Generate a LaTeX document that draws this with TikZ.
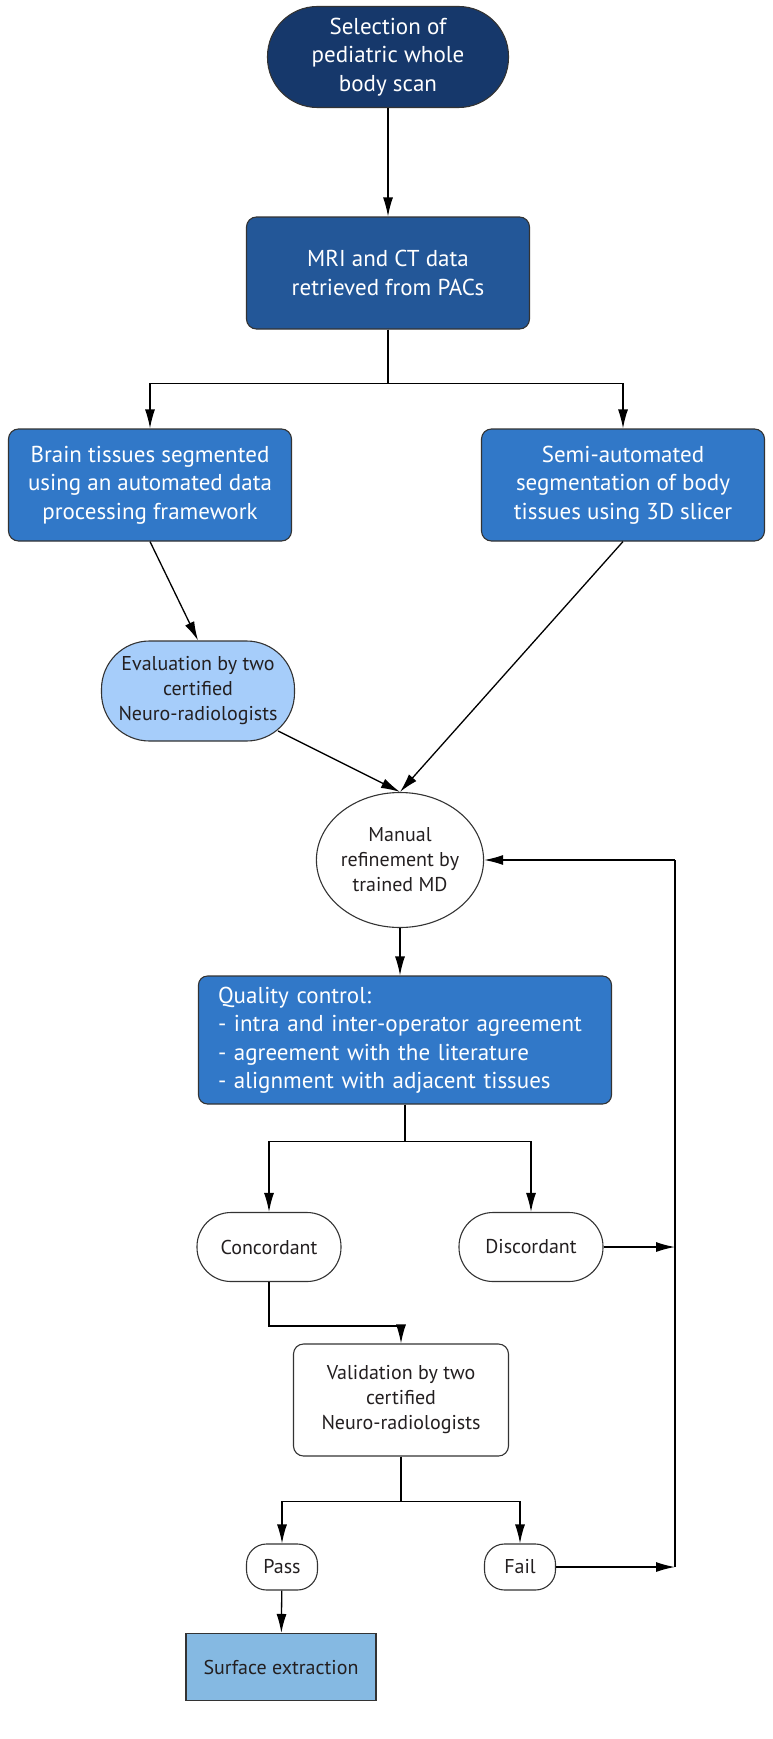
\documentclass[tikz,border=0pt]{standalone}
\usepackage{fontspec}
\setmainfont{PT Sans}
\usepackage{tikz}
\usetikzlibrary{arrows.meta,shapes.geometric}

\definecolor{navyblue}{HTML}{16386B}
\definecolor{midblue}{HTML}{235798}
\definecolor{brightblue}{HTML}{3178C8}
\definecolor{paleblue}{HTML}{A6CDFA}
\definecolor{skyblue}{HTML}{85B9E2}
\definecolor{edgegray}{HTML}{333333}
\definecolor{inkgray}{HTML}{231F20}

\begin{document}
\begin{tikzpicture}[x=1pt, y=-1pt,
		box/.style={draw=edgegray, line width=1.1pt, rounded corners=10pt, inner sep=0pt, align=center},
		bigtext/.style={font=\fontsize{23}{28.5}\selectfont, text=white},
		smalltext/.style={font=\fontsize{20}{25}\selectfont, text=inkgray},
		arr/.style={line width=1.3pt, -{Latex[length=19pt, width=10pt]}},
		link/.style={line width=1.3pt}]
		\useasboundingbox (0, 0) rectangle (773, 1739);
		
		\node[box, bigtext, fill=navyblue, rounded corners=50pt, minimum width=241pt, minimum height=101pt] (select) at (388, 57) {Selection of\\pediatric whole\\body scan};
		\node[box, bigtext, fill=midblue, minimum width=283pt, minimum height=112pt] (mri) at (388, 273) {MRI and CT data\\retrieved from PACs};
		
		\node[box, bigtext, fill=brightblue, minimum width=283pt, minimum height=112pt] (brain) at (150, 485) {Brain tissues segmented\\using an automated data\\processing framework};
		\node[box, bigtext, fill=brightblue, minimum width=283pt, minimum height=112pt] (semi) at (623, 485) {Semi-automated\\segmentation of body\\tissues using 3D slicer};
		
		\node[box, smalltext, fill=paleblue, rounded corners=48pt, minimum width=193pt, minimum height=100pt] (eval) at (198, 691) {Evaluation by two\\certified\\Neuro-radiologists};
		\node[draw=edgegray, line width=1.1pt, ellipse, smalltext, inner sep=0pt, align=center, minimum width=166pt, minimum height=135pt] (manual) at (400, 860) {Manual\\refinement by\\trained MD};
		
		\node[box, bigtext, fill=brightblue, rounded corners=9pt, minimum width=413pt, minimum height=128pt, text width=374pt, align=left] (qc) at (405, 1040) {Quality control:\\- intra and inter-operator agreement\\- agreement with the literature\\- alignment with adjacent tissues};
		
		\node[box, smalltext, fill=white, rounded corners=34pt, minimum width=144pt, minimum height=69pt] (conc) at (269, 1247) {Concordant};
		\node[box, smalltext, fill=white, rounded corners=34pt, minimum width=144pt, minimum height=69pt] (disc) at (531, 1247) {Discordant};
		
		\node[box, smalltext, fill=white, minimum width=215pt, minimum height=112pt] (valid) at (401, 1400) {Validation by two\\certified\\Neuro-radiologists};
		
		\node[box, smalltext, fill=white, rounded corners=20pt, minimum width=71pt, minimum height=46pt] (pass) at (282, 1567) {Pass};
		\node[box, smalltext, fill=white, rounded corners=20pt, minimum width=71pt, minimum height=46pt] (fail) at (520, 1567) {Fail};
		
		\node[box, smalltext, fill=skyblue, rounded corners=0pt, minimum width=190pt, minimum height=67pt] (surf) at (281, 1667) {Surface extraction};
		
		\coordinate (looptop) at (675, 860);
		\coordinate (loopmid) at (675, 1247);
		\coordinate (loopbot) at (675, 1567);
		
		\draw[arr] (select) -- (mri);
		\draw[arr] (mri.south) -- ++(0, 54) -| (brain.north);
		\draw[arr] (mri.south) -- ++(0, 54) -| (semi.north);
		\draw[arr] (brain.south) -- (eval.north);
		\draw[arr, shorten <=-19pt] (eval) -- (manual.north);
		\draw[arr] (semi.south) -- (manual.north);
		\draw[arr] (manual) -- (manual |- qc.north);
		\draw[arr] (qc.south) -- ++(0, 37) -| (conc.north);
		\draw[arr] (qc.south) -- ++(0, 37) -| (disc.north);
		\draw[arr] (conc.south) -- ++(0, 44) -| (valid.north);
		\draw[arr] (valid.south) -- ++(0, 45) -| (pass.north);
		\draw[arr] (valid.south) -- ++(0, 45) -| (fail.north);
		\draw[arr] (pass) -- (surf);
		\draw[arr] (disc.east) -- (loopmid);
		\draw[arr] (fail.east) -- (loopbot);
		\draw[link] (loopbot) -- (looptop);
		\draw[arr] (looptop) -- (manual.east);
	\end{tikzpicture}
\end{document}
